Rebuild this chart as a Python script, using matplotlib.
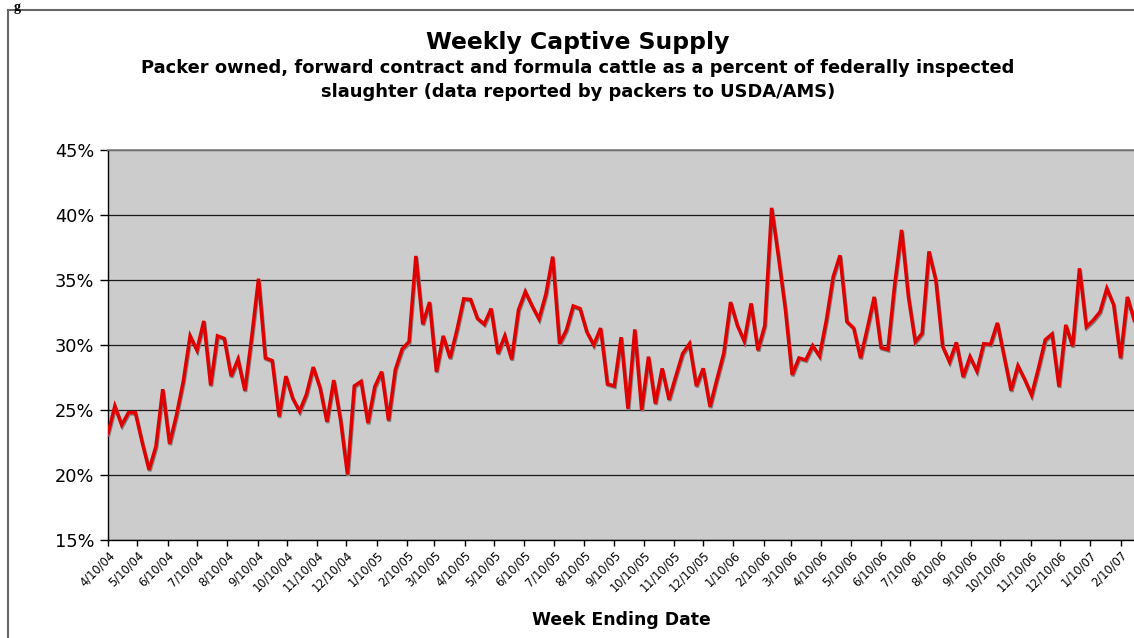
import matplotlib
matplotlib.use("Agg")
import matplotlib.pyplot as plt
import matplotlib.dates as mdates
import matplotlib.patheffects as pe
from matplotlib.lines import Line2D
from matplotlib.ticker import FuncFormatter
import pandas as pd
import numpy as np

# ---- data (percent of federally inspected slaughter), weekly from 4/10/04 ----
start_date = "2004-04-10"
vals_2004 = [23.2, 25.3, 23.85, 24.8, 24.8, 22.5, 20.4, 22.2, 26.6, 22.4,
             24.6, 27.2, 30.7, 29.6, 31.85, 26.9, 30.7, 30.5, 27.6, 28.9,
             26.5, 30.6, 35.1, 29.0, 28.8, 24.5, 27.6, 25.9, 24.9, 26.2,
             28.3, 26.7, 24.1, 27.3, 24.2, 20.05, 26.85, 27.2]
vals_2005 = [24.0, 26.8, 27.95, 24.2, 28.1, 29.7, 30.25, 36.85, 31.6, 33.3,
             27.95, 30.7, 29.0, 31.15, 33.55, 33.5, 32.05, 31.6, 32.8, 29.35,
             30.7, 28.9, 32.7, 34.1, 33.0, 32.0, 33.9, 36.8, 30.1, 31.15,
             33.0, 32.8, 31.0, 30.0, 31.3, 27.0, 26.85, 30.6, 25.1, 31.2,
             25.0, 29.1, 25.5, 28.2, 25.8, 27.6, 29.35, 30.1, 26.85, 28.2,
             25.25, 27.35, 29.35]
vals_2006 = [33.3, 31.5, 30.3, 33.2, 29.6, 31.5, 40.55, 36.8, 32.8, 27.7,
             29.0, 28.85, 29.95, 29.15, 31.9, 35.25, 36.9, 31.8, 31.3, 29.0,
             31.3, 33.7, 29.8, 29.65, 34.7, 38.85, 33.7, 30.25, 30.9, 37.2,
             35.0, 29.9, 28.7, 30.2, 27.55, 29.1, 28.0, 30.1, 30.05, 31.7,
             29.1, 26.5, 28.4, 27.35, 26.15, 28.2, 30.4, 30.85, 26.8, 31.55,
             29.9, 35.9]
vals_2007 = [31.4, 31.9, 32.55, 34.35, 33.1, 29.0, 33.7, 31.9]

y_ticks = [15, 20, 25, 30, 35, 40, 45]

title = "Weekly Captive Supply"
subtitle1 = "Packer owned, forward contract and formula cattle as a percent of federally inspected"
subtitle2 = "slaughter (data reported by packers to USDA/AMS)"
xlabel = "Week Ending Date"

values = np.array(vals_2004 + vals_2005 + vals_2006 + vals_2007) / 100.0
dates = pd.date_range(start=start_date, periods=len(values), freq="7D")

# ---- figure ----
W, H = 1134, 638
plt.rcParams["font.family"] = ["DejaVu Sans"]
fig = plt.figure(figsize=(W / 100, H / 100), dpi=100)

ax_left, ax_right, ax_top, ax_bottom = 108, 1134, 150, 540
ax = fig.add_axes([ax_left / W, 1 - ax_bottom / H, (ax_right - ax_left) / W, (ax_bottom - ax_top) / H])
ax.set_facecolor("#cccccc")

x_start = pd.Timestamp(start_date)
x_end = x_start + pd.Timedelta(days=1049.8)
ax.set_xlim(mdates.date2num(x_start), mdates.date2num(x_end))
ax.set_ylim(0.15, 0.45)

ax.plot(dates, values, color="#e00000", lw=2.5, solid_joinstyle="miter",
        path_effects=[pe.SimpleLineShadow(offset=(0.6, -1.0), shadow_color="#808080", alpha=1.0),
                      pe.Normal()], zorder=3)

ax.set_yticks([v / 100 for v in y_ticks])
ax.yaxis.set_major_formatter(FuncFormatter(lambda v, p: f"{v * 100:.0f}%"))
ax.grid(axis="y", color="#1a1a1a", lw=0.9, zorder=1)
ax.set_axisbelow(True)

ax.xaxis.set_major_locator(mdates.MonthLocator(bymonthday=10))
ax.xaxis.set_major_formatter(FuncFormatter(
    lambda v, p: (lambda d: f"{d.month}/{d.day}/{d.strftime('%y')}")(mdates.num2date(v))))

ax.tick_params(axis="y", direction="out", length=6, width=1, labelsize=12.8, pad=4, colors="black")
ax.tick_params(axis="x", direction="out", length=4, width=1, labelsize=8.3, pad=2, colors="black")
for lab in ax.get_xticklabels():
    lab.set_rotation(45)
    lab.set_ha("right")
    lab.set_va("top")
    lab.set_rotation_mode("anchor")

for s in ["left", "bottom"]:
    ax.spines[s].set_color("black")
    ax.spines[s].set_linewidth(1.0)
ax.spines["top"].set_color("#808080")
ax.spines["top"].set_linewidth(1.2)
ax.spines["right"].set_visible(False)

ax.set_xlabel(xlabel, fontsize=12.4, fontweight="bold", labelpad=12)

# titles
fig.text(578 / W, 1 - 42 / H, title, ha="center", va="center", fontsize=16.9, fontweight="bold")
fig.text(578 / W, 1 - 68 / H, subtitle1, ha="center", va="center", fontsize=12.9, fontweight="bold")
fig.text(578 / W, 1 - 92 / H, subtitle2, ha="center", va="center", fontsize=12.9, fontweight="bold")

# small caption glyph above the chart frame, kept fully inside the picture
fig.text(14 / W, 1 - 0.5 / H, "g", ha="left", va="top", fontsize=10,
         fontweight="bold", family=["Liberation Serif"])

# outer chart border
fig.add_artist(Line2D([8 / W, 8 / W], [0, 1 - 10 / H], color="#666666", lw=1.5))
fig.add_artist(Line2D([8 / W, 1], [1 - 10 / H, 1 - 10 / H], color="#666666", lw=1.5))

fig.savefig("out.png", dpi=100)
